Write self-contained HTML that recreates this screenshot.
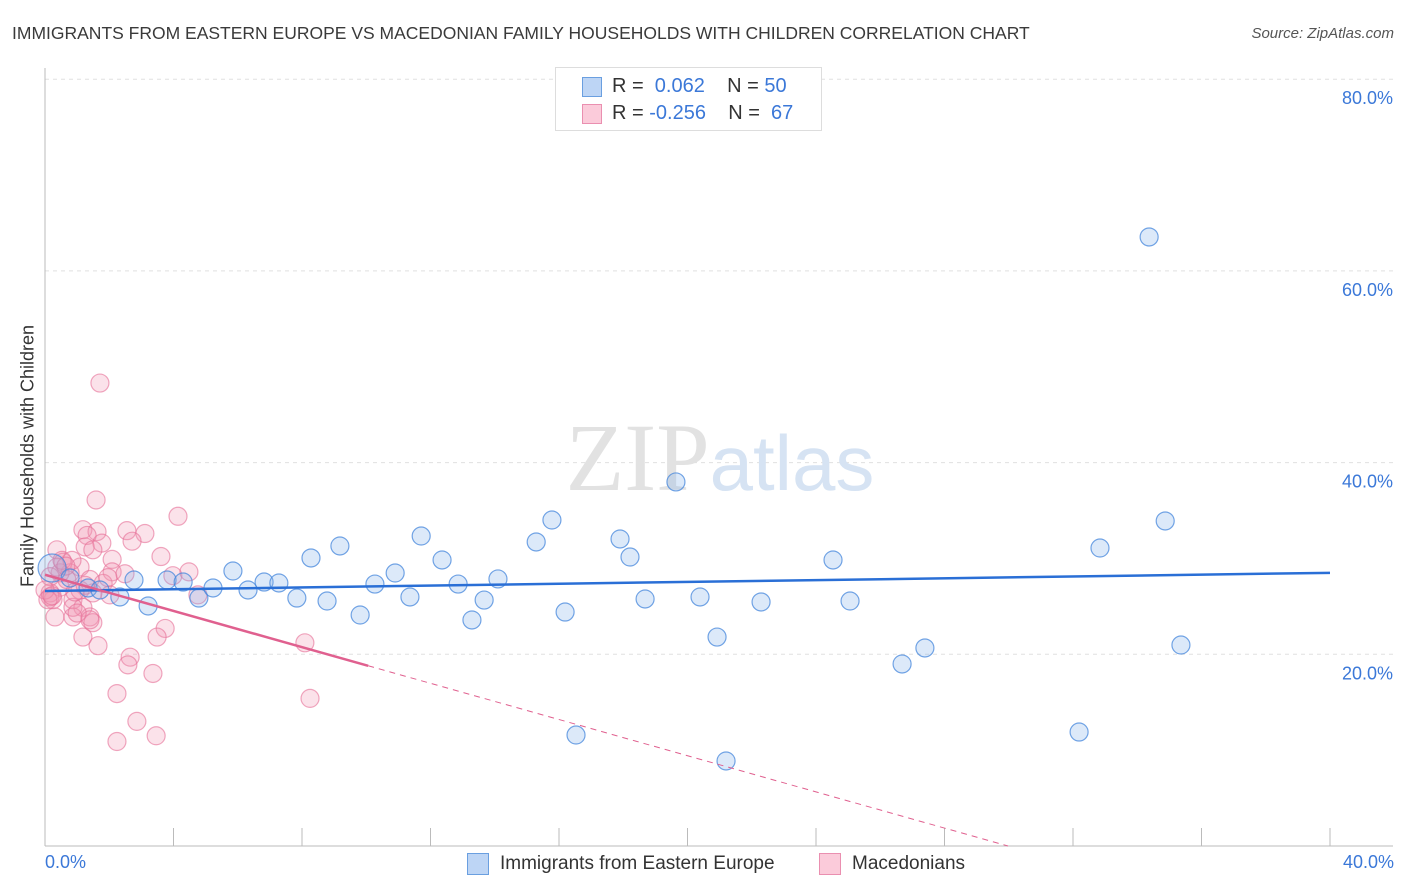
<!DOCTYPE html>
<html><head><meta charset="utf-8"><style>
body{margin:0;background:#fff;font-family:"Liberation Sans",sans-serif;}
#wrap{position:relative;width:1406px;height:892px;overflow:hidden}
.t{position:absolute;white-space:nowrap}
</style></head><body>
<div id="wrap">
<div class="t" style="left:12px;top:23px;font-size:17.5px;color:#3a3a3a">IMMIGRANTS FROM EASTERN EUROPE VS MACEDONIAN FAMILY HOUSEHOLDS WITH CHILDREN CORRELATION CHART</div>
<div class="t" style="right:12px;top:25px;font-size:15px;color:#555;font-style:italic">Source: ZipAtlas.com</div>
<div class="t" style="left:28px;top:456px;font-size:18px;color:#333;transform:translate(-50%,-50%) rotate(-90deg)">Family Households with Children</div>
<svg id="svg" width="1406" height="892" style="position:absolute;left:0;top:0"></svg>
</div>
<script>
const blueX=[0.22,0.78,1.34,1.71,2.33,2.77,3.21,3.8,4.3,4.79,5.23,5.85,6.32,6.82,7.28,7.84,8.28,8.78,9.18,9.81,10.27,10.9,11.36,11.71,12.36,12.86,13.67,13.29,14.1,15.29,15.78,16.19,16.53,17.9,18.21,18.68,19.64,20.39,20.92,21.2,22.29,24.53,25.06,26.68,27.39,32.19,32.84,34.37,34.87,35.36];
const blueY=[29.0,27.96,26.92,26.71,25.98,27.75,25.04,27.75,27.54,25.87,26.92,28.69,26.71,27.54,27.44,25.87,30.05,25.56,31.3,24.1,27.33,28.48,25.98,32.34,29.84,27.33,25.66,23.58,27.86,31.72,34.01,24.41,11.58,32.03,30.15,25.77,37.98,25.98,21.8,8.87,25.46,29.84,25.56,18.99,20.66,11.89,31.09,63.54,33.91,20.97];
const pinkX=[1.71,1.59,4.14,1.18,1.62,2.55,3.11,1.31,1.77,1.25,2.71,0.37,1.49,3.61,2.09,1.09,0.56,2.09,3.98,4.48,0.78,1.4,1.81,4.76,2.02,0.47,0.16,0.25,0.87,1.18,0.31,0.87,1.4,0.87,1.49,1.18,3.74,3.49,8.09,1.65,2.65,2.58,3.36,2.24,8.25,2.86,3.46,2.24,0.47,0.68,1.09,0.16,0.37,0.16,1.4,1.0,1.49,0.53,0.84,0.0,0.09,0.22,0.65,0.93,1.25,1.96,2.49];
const pinkY=[48.3,36.1,34.4,33.0,32.8,32.9,32.6,32.4,31.6,31.2,31.8,30.9,30.9,30.2,29.9,29.1,29.6,28.6,28.2,28.6,28.5,27.8,27.4,26.2,26.2,27.0,26.4,25.7,25.7,24.9,23.9,23.9,23.9,24.9,23.3,21.8,22.7,21.8,21.2,20.9,19.7,18.9,18.0,15.9,15.4,13.0,11.5,10.9,28.5,27.8,26.7,26.0,29.1,28.1,23.6,24.3,26.4,29.8,29.8,26.7,25.7,26.1,29.2,26.5,27.2,28.0,28.4];
const yTicks=[20,40,60,80];
const blueTrend=[26.6,28.5]; // at x=0 and x=40
const pinkTrend=[28.3,-0.944]; // intercept, slope
const X=v=>45+v/40*1285, Y=v=>846-v/20*191.7;
const s=document.getElementById('svg');const NS='http://www.w3.org/2000/svg';
function mk(t,a){const e=document.createElementNS(NS,t);for(const k in a)e.setAttribute(k,a[k]);s.appendChild(e);return e;}
for(const t of yTicks){
 const g=mk('line',{x1:45,x2:1393,y1:Y(t),y2:Y(t),stroke:'#e0e0e0','stroke-dasharray':'4,4'});
 
 
 const l=mk('text',{x:1393,y:Y(t)+25,'text-anchor':'end','font-size':18,fill:'#3b78d8'});l.textContent=t.toFixed(1)+'%';
 
 
}
mk('line',{x1:45,x2:45,y1:68,y2:846,stroke:'#bbb'});
mk('line',{x1:45,x2:1393,y1:846,y2:846,stroke:'#bbb'});
for(let i=1;i<=10;i++){const t=mk('line',{x1:X(i*4),x2:X(i*4),y1:828,y2:846,stroke:'#bbb'});
 
 }
const wm=mk('text',{x:720,y:490,'text-anchor':'middle','font-size':96,'font-family':'Liberation Serif',fill:'#e2e2e2'});
wm.innerHTML='ZIP<tspan font-family="Liberation Sans" fill="#d6e3f3" font-size="78">atlas</tspan>';


function pts(xs,ys,fill,stroke,name){for(let i=0;i<xs.length;i++){const r=(name==='blue-point'&&i===0)?14:9;
 const c=mk('circle',{cx:X(xs[i]),cy:Y(ys[i]),r:r,fill:fill,stroke:stroke,'stroke-width':1.2});
 
 }}
pts(pinkX,pinkY,'rgba(242,150,180,0.28)','rgba(230,110,150,0.6)','pink-point');
pts(blueX,blueY,'rgba(130,175,235,0.28)','rgba(70,135,220,0.75)','blue-point');
const bt=mk('line',{x1:X(0),y1:Y(blueTrend[0]),x2:X(40),y2:Y(blueTrend[1]),stroke:'#2a6fd6','stroke-width':2.5});


const pe=10.06, pz=-pinkTrend[0]/pinkTrend[1];
const pt=mk('line',{x1:X(0),y1:Y(pinkTrend[0]),x2:X(pe),y2:Y(pinkTrend[0]+pinkTrend[1]*pe),stroke:'#e0608f','stroke-width':2.5});


const pd=mk('line',{x1:X(pe),y1:Y(pinkTrend[0]+pinkTrend[1]*pe),x2:X(pz),y2:Y(0),stroke:'#e0608f','stroke-width':1,'stroke-dasharray':'6,5'});


</script>
<div class="t" style="left:45px;top:852px;font-size:18px;color:#3b78d8">0.0%</div>
<div class="t" style="right:12px;top:852px;font-size:18px;color:#3b78d8">40.0%</div>
<div style="position:absolute;left:555px;top:67px;width:265px;height:62px;border:1px solid #ddd;background:#fff;font-size:20px;color:#333">
 <div style="position:absolute;left:26px;top:9px;width:18px;height:18px;background:#bdd5f5;border:1px solid #6a9fe0"></div>
 <div class="t" style="left:56px;top:7px">R = <span style="color:#3b78d8">&nbsp;0.062</span>&nbsp;&nbsp;&nbsp;&nbsp;N = <span style="color:#3b78d8">50</span></div>
 <div style="position:absolute;left:26px;top:36px;width:18px;height:18px;background:#fbcbda;border:1px solid #ea8fb0"></div>
 <div class="t" style="left:56px;top:34px">R = <span style="color:#3b78d8">-0.256</span>&nbsp;&nbsp;&nbsp;&nbsp;N = <span style="color:#3b78d8">&nbsp;67</span></div>
</div>
<div style="position:absolute;left:467px;top:853px;font-size:19px;color:#333">
 <div style="position:absolute;left:0;top:0;width:20px;height:20px;background:#bdd5f5;border:1px solid #6a9fe0"></div>
 <div class="t" style="left:33px;top:0">Immigrants from Eastern Europe</div></div>
<div style="position:absolute;left:819px;top:853px;font-size:19px;color:#333">
 <div style="position:absolute;left:0;top:0;width:20px;height:20px;background:#fbcbda;border:1px solid #ea8fb0"></div>
 <div class="t" style="left:33px;top:0">Macedonians</div></div>
</body></html>
